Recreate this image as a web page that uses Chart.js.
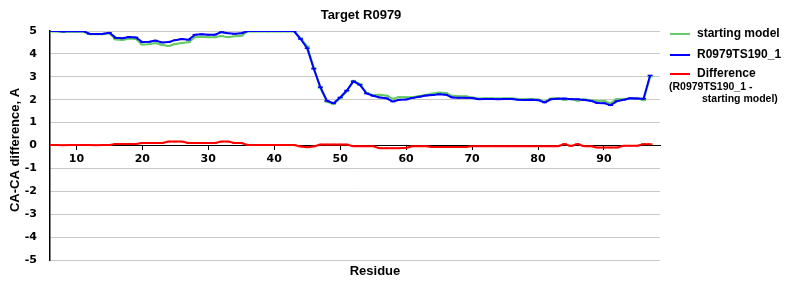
<!DOCTYPE html>
<html>
<head>
<meta charset="utf-8">
<script src="https://cdn.jsdelivr.net/npm/chart.js@4.4.1/dist/chart.umd.min.js"></script>
<style>
body { margin: 0; background: #fff; }
</style>
</head>
<body>
<canvas id="myChart" width="800" height="300"></canvas>
<script>
var residues = [6, 7, 8, 9, 10, 11, 12, 13, 14, 15, 16, 17, 18, 19, 20, 21, 22, 23, 24, 25, 26, 27, 28, 29, 30, 31, 32, 33, 34, 35, 36, 37, 38, 39, 40, 41, 42, 43, 44, 45, 46, 47, 48, 49, 50, 51, 52, 53, 54, 55, 56, 57, 58, 59, 60, 61, 62, 63, 64, 65, 66, 67, 68, 69, 70, 71, 72, 73, 74, 75, 76, 77, 78, 79, 80, 81, 82, 83, 84, 85, 86, 87, 88, 89, 90, 91, 92, 93, 94, 95, 96, 97];

// starting model
var startingModel = [4.98, 4.98, 4.97, 4.98, 4.97, 4.98, 4.86, 4.86, 4.86, 4.9,
  4.63, 4.61, 4.67, 4.65, 4.41, 4.42, 4.47, 4.39, 4.35, 4.43,
  4.48, 4.51, 4.73, 4.75, 4.73, 4.73, 4.78, 4.73, 4.77, 4.79,
  4.98, 4.98, 4.98, 4.98, 4.98, 4.98, 4.98, 4.98, 4.69, 4.33,
  3.39, 2.51, 1.91, 1.81, 2.06, 2.36, 2.83, 2.68, 2.3, 2.2,
  2.22, 2.18, 2.04, 2.12, 2.11, 2.11, 2.16, 2.21, 2.27, 2.31,
  2.29, 2.17, 2.15, 2.15, 2.1, 2.05, 2.06, 2.06, 2.05, 2.06,
  2.06, 2.03, 2.02, 2.03, 2.01, 1.91, 2.05, 2.07, 1.99, 2.04,
  1.96, 2.02, 1.98, 1.95, 1.94, 1.85, 2.03, 2.01, 2.07, 2.06,
  1.98, 3.0];

// R0979TS190_1
var model = [5.0, 5.0, 4.98, 5.0, 4.99, 5.0, 4.88, 4.87, 4.88, 4.92,
  4.7, 4.68, 4.74, 4.72, 4.52, 4.53, 4.58, 4.5, 4.52, 4.6,
  4.65, 4.62, 4.84, 4.86, 4.84, 4.84, 4.95, 4.9, 4.88, 4.9,
  5.0, 5.0, 5.0, 5.0, 5.0, 5.0, 5.0, 5.0, 4.65, 4.25,
  3.35, 2.55, 1.95, 1.85, 2.1, 2.4, 2.8, 2.65, 2.27, 2.17,
  2.1, 2.06, 1.92, 2.0, 2.01, 2.08, 2.13, 2.18, 2.2, 2.24,
  2.22, 2.1, 2.08, 2.08, 2.07, 2.02, 2.03, 2.03, 2.02, 2.03,
  2.03, 2.0, 1.99, 2.0, 1.98, 1.88, 2.02, 2.04, 2.05, 2.02,
  2.02, 1.99, 1.95, 1.86, 1.85, 1.76, 1.94, 2.0, 2.06, 2.05,
  2.04, 3.06];

// Difference (R0979TS190_1 - starting model)
var difference = [0.02, 0.02, 0.01, 0.02, 0.02, 0.02, 0.02, 0.01, 0.02, 0.02,
  0.07, 0.07, 0.07, 0.07, 0.11, 0.11, 0.11, 0.11, 0.17, 0.17,
  0.17, 0.11, 0.11, 0.11, 0.11, 0.11, 0.17, 0.17, 0.11, 0.11,
  0.02, 0.02, 0.02, 0.02, 0.02, 0.02, 0.02, 0.02, -0.04, -0.08,
  -0.04, 0.04, 0.04, 0.04, 0.04, 0.04, -0.03, -0.03, -0.03, -0.03,
  -0.12, -0.12, -0.12, -0.12, -0.1, -0.03, -0.03, -0.03, -0.07, -0.07,
  -0.07, -0.07, -0.07, -0.07, -0.03, -0.03, -0.03, -0.03, -0.03, -0.03,
  -0.03, -0.03, -0.03, -0.03, -0.03, -0.03, -0.03, -0.03, 0.06, -0.02,
  0.06, -0.03, -0.03, -0.09, -0.09, -0.09, -0.09, -0.01, -0.01, -0.01,
  0.06, 0.06];

var xTicks = [10, 20, 30, 40, 50, 60, 70, 80, 90];
var yTicks = [-5, -4, -3, -2, -1, 0, 1, 2, 3, 4, 5];

var seriesNames = ['starting model', 'R0979TS190_1', 'Difference'];
var seriesColors = ['#66cc66', '#0000ff', '#ff0000'];

function points(values) {
  return residues.map(function (r, i) { return { x: r, y: values[i] }; });
}

function lineSet(label, values, color, order) {
  return {
    label: label,
    data: points(values),
    borderColor: color,
    backgroundColor: color,
    borderWidth: 2,
    pointStyle: 'line',
    pointRadius: 2.5,
    pointBorderWidth: 1.5,
    pointBorderColor: color,
    order: order,
    tension: 0
  };
}

var labelFont = 'bold 12px "Liberation Sans", Arial, sans-serif';
var titleFont = 'bold 13px "Liberation Sans", Arial, sans-serif';

var textPlugin = {
  id: 'texts',
  afterDraw: function (chart) {
    var c = chart.ctx;
    c.save();
    c.fillStyle = '#000';
    c.textBaseline = 'middle';
    c.textAlign = 'center';
    c.font = titleFont;
    c.fillText('Target R0979', 361, 15);
    c.fillText('Residue', 375, 271);
    c.save();
    c.translate(15, 150);
    c.rotate(-Math.PI / 2);
    c.fillText('CA-CA difference, A', 0, 0);
    c.restore();

    // legend
    var rows = [34, 55, 74];
    c.textAlign = 'left';
    c.font = labelFont;
    for (var i = 0; i < seriesNames.length; i++) {
      c.strokeStyle = seriesColors[i];
      c.lineWidth = 2;
      c.beginPath();
      c.moveTo(670, rows[i]);
      c.lineTo(690, rows[i]);
      c.stroke();
      c.fillStyle = '#000';
      c.fillText(seriesNames[i], 697, rows[i]);
    }
    c.font = 'bold 10.5px "Liberation Sans", Arial, sans-serif';
    c.fillText('(R0979TS190_1 -', 669, 87);
    c.fillText('starting model)', 702, 99);
    c.restore();
  }
};

var ctx = document.getElementById('myChart');
var chart = new Chart(ctx, {
  type: 'line',
  data: {
    datasets: [
      lineSet(seriesNames[0], startingModel, seriesColors[0], 2),
      lineSet(seriesNames[1], model, seriesColors[1], 1),
      lineSet(seriesNames[2], difference, seriesColors[2], 0)
    ]
  },
  options: {
    responsive: false,
    animation: false,
    layout: { padding: { top: 31, bottom: 40, right: 140, left: 0 } },
    plugins: {
      legend: { display: false },
      tooltip: { enabled: false },
      title: { display: false }
    },
    scales: {
      x: {
        type: 'linear',
        position: { y: 0 },
        min: 6,
        max: 98.5,
        afterBuildTicks: function (s) {
          s.ticks = xTicks.map(function (v) { return { value: v }; });
        },
        grid: { drawOnChartArea: false, drawTicks: true, tickLength: 4, color: '#000' },
        border: { color: '#000', width: 1 },
        ticks: {
          color: '#000',
          padding: 3,
          maxRotation: 0,
          font: { family: 'DejaVu Sans', size: 11, weight: 'bold' }
        }
      },
      y: {
        min: -5,
        max: 5,
        afterBuildTicks: function (s) {
          s.ticks = yTicks.map(function (v) { return { value: v }; });
        },
        afterFit: function (s) { s.width = 50; },
        grid: { color: '#c8c8c8', lineWidth: 1, drawTicks: false },
        border: { color: '#000', width: 1.5 },
        ticks: {
          color: '#000',
          padding: 13,
          font: { family: 'DejaVu Sans', size: 11, weight: 'bold' },
          callback: function (v) { return String(v); }
        }
      }
    }
  },
  plugins: [textPlugin]
});
</script>
</body>
</html>
